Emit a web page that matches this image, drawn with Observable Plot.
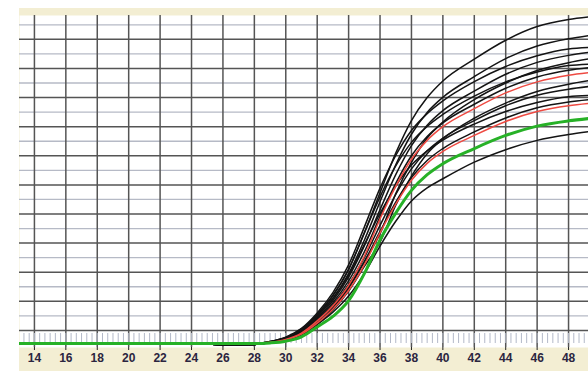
<!DOCTYPE html>
<html><head><meta charset="utf-8">
<script src="https://cdn.jsdelivr.net/npm/d3@7"></script>
<script src="https://cdn.jsdelivr.net/npm/@observablehq/plot@0.6"></script>
<style>
html,body{margin:0;padding:0;background:#fff;}
#chart svg{display:block;background:linear-gradient(to right,#fff 0 19px,transparent 19px),linear-gradient(to bottom,#fff 0 8px,#f3eed3 8px);}
</style></head><body><div id="chart"></div>
<script>
// Cycle numbers where values were read
const cycles = [13, 24, 26, 28, 29, 30, 31, 32, 33, 34, 35, 36, 37, 38, 39, 40, 42, 44, 46, 48, 49.3];

// Fluorescence (arbitrary units) of each well
const black1  = [0,0,-0.4,-0.3,0.5,1.8,4.5,9.8,16.5,25.5,38.0,51.8,65.4,76.6,84.5,90.2,97.7,104.2,108.9,111.3,112.2];
const black2  = [0,0,-0.4,-0.3,0.5,1.7,4.3,9.3,15.5,24.0,35.5,48.7,61.4,71.9,79.4,84.6,91.7,97.9,102.2,104.7,105.8];
const black3  = [0,0,-0.4,-0.1,0.7,2.2,5.2,10.5,17.5,27.0,40.0,53.4,64.6,73.2,79.0,83.4,90.0,95.2,98.9,101.2,101.7];
const black4  = [0,0,-0.4,-0.3,0.5,1.6,4.1,8.8,14.8,22.8,33.5,46.0,58.0,68.0,75.0,80.0,86.7,92.5,96.6,99.0,100.0];
const black5  = [0,0,-0.4,-0.1,0.7,2.1,5.0,10.0,16.5,25.5,38.0,50.4,61.0,69.1,74.6,78.7,85.0,89.9,93.3,95.5,96.0];
const black6  = [0,0,-0.4,-0.3,0.4,1.5,3.9,8.4,14.0,21.5,31.5,43.6,55.0,64.5,71.1,75.8,82.2,87.7,91.6,93.9,94.8];
const black7  = [0,0,-0.4,-0.3,0.4,1.5,3.7,8.0,13.3,20.3,29.5,40.6,51.2,60.0,66.2,70.6,76.6,81.7,85.3,87.4,88.3];
const black8  = [0,0,-0.4,-0.1,0.6,2.0,4.8,9.5,15.5,23.5,34.0,44.7,54.1,61.3,66.2,69.9,75.4,79.7,82.8,84.8,85.2];
const black9  = [0,0,-0.4,-0.3,0.4,1.4,3.6,7.7,12.8,19.5,28.2,38.5,48.6,57.0,62.9,67.0,72.7,77.5,81.0,83.0,83.8];
const black10 = [0,0,-0.4,-0.3,0.3,1.2,3.1,6.6,10.8,16.3,24.0,33.5,42.0,49.0,53.5,56.6,62.3,66.6,69.8,71.8,72.8];
const black11 = [0,0,-0.4,-0.3,0.3,1.2,3.2,7.0,12.2,19.0,28.0,37.7,51.5,62.2,70.6,76.1,83.8,89.5,93.8,96.5,97.8];
const black12 = [0,0,-0.4,-0.3,0.3,1.1,3.0,6.6,11.5,18.0,26.5,34.8,47.5,57.5,65.2,70.3,77.4,82.6,86.6,89.1,90.3];
const red1    = [0,0,0,0,0.4,1.4,3.6,7.8,13.0,20.0,30.0,42.8,54.0,63.3,69.8,74.5,80.7,86.1,89.9,92.2,93.1];
const red2    = [0,0,0,0,0.3,1.2,3.2,7.0,11.8,18.2,27.0,38.0,47.9,56.1,61.9,66.0,71.5,76.3,79.7,81.7,82.5];
const green1  = [0,0,0,0,0.2,0.8,2.3,5.7,9.3,14.7,24.0,35.6,44.8,52.6,58.0,61.8,67.0,71.5,74.7,76.5,77.3];

const blackSeries = [black1,black2,black3,black4,black5,black6,black7,black8,black9,black10,black11,black12];
const redSeries = [red1, red2];
const greenSeries = [green1];

// Axis tick labels and grid values
const xTicks = [14,16,18,20,22,24,26,28,30,32,34,36,38,40,42,44,46,48];
const minorTicks = d3.range(13 * 3 + 1, 49 * 3 + 1).map(i => i / 3);
const gridDark = [4.5,14.5,24.5,34.5,44.5,54.5,64.5,74.5,84.5,94.5,104.5];
const gridLight = [9.5,19.5,29.5,39.5,49.5,59.5,69.5,79.5,89.5,99.5,109.5];

function rows(seriesList, prefix) {
  return seriesList.flatMap((vals, i) => vals.map((v, j) => ({cycle: cycles[j], value: v, id: prefix + i})));
}
const blackRows = rows(blackSeries, "k");
const redRows = rows(redSeries, "r");
const greenRows = rows(greenSeries, "g");

const lineOpts = {x: "cycle", y: "value", z: "id", curve: "monotone-x", clip: true, strokeLinejoin: "round", strokeLinecap: "round"};

const chart = Plot.plot({
  width: 588, height: 371,
  marginLeft: 19, marginRight: 0, marginTop: 15, marginBottom: 24,
  x: {domain: [13.05, 49.27], label: null},
  y: {domain: [-1.37, 112.7], axis: null},
  style: {fontFamily: "'Liberation Sans', Arial, sans-serif", overflow: "hidden"},
  marks: [
    Plot.frame({fill: "#fff", stroke: "none"}),
    Plot.ruleY(gridLight, {stroke: "#b6bac6", strokeWidth: 1.3}),
    Plot.ruleY(gridDark, {stroke: "#555", strokeWidth: 1.5}),
    Plot.ruleX(xTicks, {stroke: "#555", strokeWidth: 1.5}),
    Plot.axisX(minorTicks, {tickSize: -10, dy: -4, tickFormat: () => "", label: null, stroke: "#b3b9c8"}),
    Plot.axisX(xTicks, {tickSize: 3, tickPadding: 3, fontSize: 12, fontWeight: "bold", label: null, fill: "#2b2540", stroke: "#222"}),
    Plot.line(blackRows, {...lineOpts, stroke: "#141414", strokeWidth: 1.5}),
    Plot.line(redRows, {...lineOpts, stroke: "#ee4a42", strokeWidth: 1.5}),
    Plot.line(greenRows, {...lineOpts, stroke: "#27b127", strokeWidth: 3})
  ]
});
document.getElementById("chart").appendChild(chart);
</script>
</body></html>
